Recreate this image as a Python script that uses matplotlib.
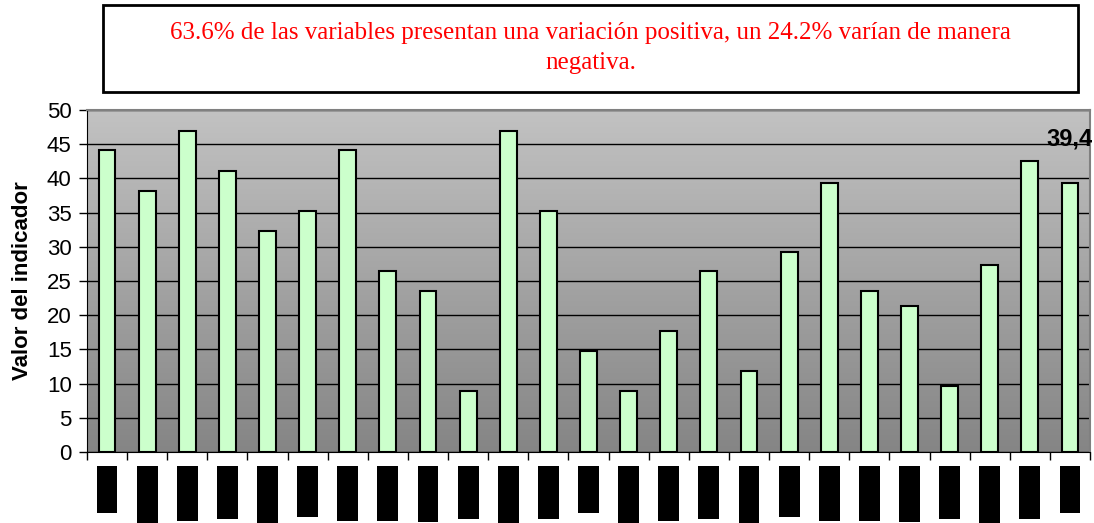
import matplotlib
matplotlib.use("Agg")
import matplotlib.pyplot as plt
import numpy as np
from matplotlib.patches import Rectangle
from matplotlib.transforms import blended_transform_factory

values = [44.2, 38.1, 46.9, 41.1, 32.3, 35.3, 44.2, 26.5, 23.5, 8.9,
          46.9, 35.3, 14.7, 8.9, 17.7, 26.5, 11.8, 29.2, 39.4, 23.5,
          21.3, 9.6, 27.4, 42.5, 39.4]
# redacted category labels (shown as black blocks); relative block lengths
redacted_len = [47, 57, 55, 53, 57, 51, 55, 55, 56, 53, 57, 53,
                47, 57, 55, 53, 57, 51, 55, 55, 56, 53, 57, 53, 47]
yticks = list(range(0, 51, 5))
ylabel = "Valor del indicador"
note = ("63.6% de las variables presentan una variación positiva, un 24.2% varían de manera\n"
        "negativa.")
label_last = "39,4"

W, H = 1094, 523
fig = plt.figure(figsize=(W / 100, H / 100), dpi=100)
ax = fig.add_axes([87 / W, 1 - 452 / H, (1090 - 87) / W, (452 - 110) / H])

n = len(values)
x = np.arange(n)

# gradient background (light at top, darker at bottom)
grad = np.linspace(0, 1, 256).reshape(-1, 1)
cmap = matplotlib.colors.LinearSegmentedColormap.from_list("g", ["#c2c2c2", "#858585"])
ax.imshow(grad, extent=(-0.5, n - 0.5, 0, 50), aspect="auto", cmap=cmap,
          origin="upper", zorder=0)
ax.set_xlim(-0.5, n - 0.5)
ax.set_ylim(0, 50)

ax.set_yticks(yticks)
ax.yaxis.grid(True, color="black", linewidth=1.0, zorder=1)
ax.set_axisbelow(True)

ax.bar(x, values, width=0.42, color="#ccffcc", edgecolor="black", linewidth=1.5, zorder=3)

ax.set_xticks(np.arange(-0.5, n, 1))
ax.set_xticklabels([])
ax.tick_params(axis="x", direction="out", length=6, width=1, color="black")
ax.tick_params(axis="y", direction="out", length=6, width=1, labelsize=16, pad=5)
for lab in ax.get_yticklabels():
    lab.set_fontfamily("Liberation Sans")

ax.spines["top"].set_color("#808080")
ax.spines["right"].set_color("#808080")
ax.spines["top"].set_linewidth(1.5)
ax.spines["right"].set_linewidth(1.5)
ax.spines["left"].set_color("black")
ax.spines["bottom"].set_color("black")

ax.set_ylabel(ylabel, fontsize=16, fontweight="bold", family="Liberation Sans", labelpad=10)

ax.text(x[-1] + 0.0, 45.8, label_last, fontsize=17, fontweight="bold",
        family="Liberation Sans", ha="center", va="center", zorder=5, clip_on=False)

# redacted category label blocks
tr = blended_transform_factory(ax.transData, fig.transFigure)
for xi, L in zip(x, redacted_len):
    top = 1 - 466 / H
    ax.add_patch(Rectangle((xi - 0.26, top - L / H), 0.52, L / H, transform=tr,
                           facecolor="black", edgecolor="none", clip_on=False))

# note box
fig.patches.append(Rectangle((103 / W, 1 - 92 / H), (1078 - 103) / W, (92 - 5) / H,
                             transform=fig.transFigure, facecolor="white",
                             edgecolor="black", linewidth=2))
fig.text((103 + 1078) / 2 / W, 1 - 48 / H, note, color="#ff0000", fontsize=18,
         family="Liberation Serif", ha="center", va="center", linespacing=1.45)

fig.savefig("out.png", dpi=100)
